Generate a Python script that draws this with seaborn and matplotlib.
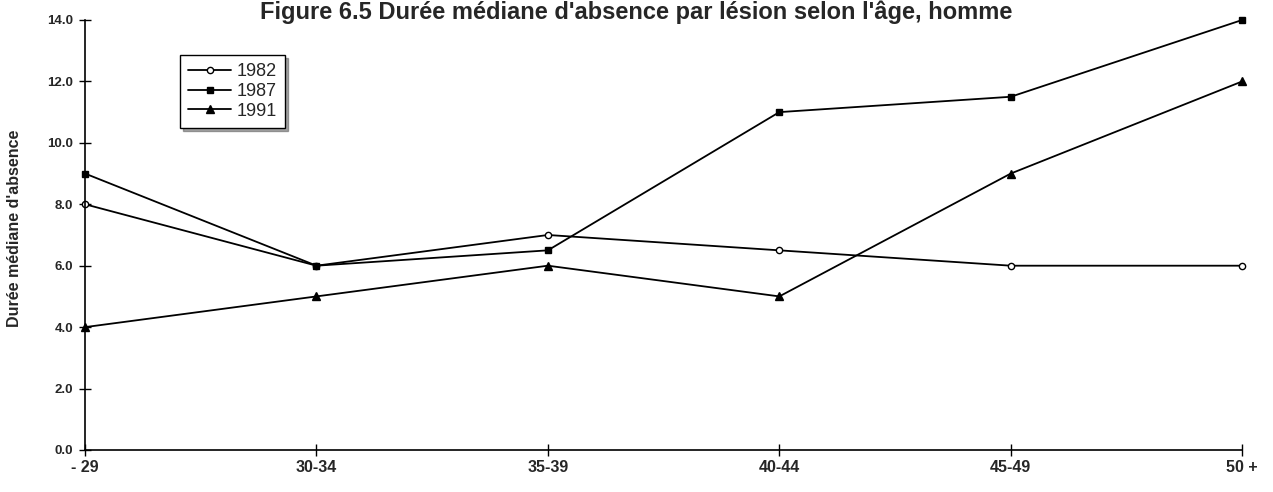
import matplotlib
matplotlib.use("Agg")
import matplotlib.pyplot as plt
import seaborn as sns
import pandas as pd

categories = ["- 29", "30-34", "35-39", "40-44", "45-49", "50 +"]
s1982 = [8.0, 6.0, 7.0, 6.5, 6.0, 6.0]
s1987 = [9.0, 6.0, 6.5, 11.0, 11.5, 14.0]
s1991 = [4.0, 5.0, 6.0, 5.0, 9.0, 12.0]
yticks = [0, 2, 4, 6, 8, 10, 12, 14]

sns.set_style("white")
plt.rcParams['font.family'] = ['Liberation Sans', 'DejaVu Sans']

rows = []
for name, vals in [("1982", s1982), ("1987", s1987), ("1991", s1991)]:
    for i, (c, v) in enumerate(zip(categories, vals)):
        rows.append({"pos": i, "age": c, "val": v, "year": name})
df = pd.DataFrame(rows)

fig = plt.figure(figsize=(12.73, 4.92), dpi=100)
ax = fig.add_axes([0.0668, 0.0854, 0.909, 0.874])

styles = {"1982": dict(marker="o", mfc="white", ms=4.5),
          "1987": dict(marker="s", mfc="black", ms=5),
          "1991": dict(marker="^", mfc="black", ms=5.5)}
for name in ["1982", "1987", "1991"]:
    sub = df[df["year"] == name]
    st = styles[name]
    sns.lineplot(data=sub, x="pos", y="val", ax=ax, color="black", lw=1.3,
                 marker=st["marker"], markerfacecolor=st["mfc"], markeredgecolor="black",
                 markeredgewidth=1.0, markersize=st["ms"], label=name, clip_on=False)

ax.set_xlim(0, len(categories) - 1)
ax.set_ylim(0, 14)
ax.set_xticks(range(len(categories)))
ax.set_xticklabels(categories, fontsize=11.5, fontweight="bold")
ax.set_yticks(yticks)
ax.set_yticklabels([f"{v:.1f}" for v in yticks], fontsize=9.5, fontweight="bold")
ax.tick_params(axis="both", direction="inout", length=9, width=1, color="black",
               bottom=True, left=True)
ax.tick_params(axis="x", pad=3)
ax.tick_params(axis="y", pad=4)
for side in ["top", "right"]:
    ax.spines[side].set_visible(False)
for side in ["left", "bottom"]:
    ax.spines[side].set_color("black")
    ax.spines[side].set_linewidth(1.2)
ax.set_xlabel("")
ax.set_ylabel("Durée médiane d'absence", fontsize=11.5, fontweight="bold")
ax.yaxis.set_label_coords(-63 / 1157, 0.515)
ax.patch.set_alpha(0)

leg = ax.legend(loc="upper left", bbox_to_anchor=(0.082, 0.918), frameon=True, fancybox=False,
                shadow=True, fontsize=13, handlelength=2.4, handletextpad=0.3,
                borderpad=0.45, labelspacing=0.15, borderaxespad=0)
leg.get_frame().set_edgecolor("black")
leg.get_frame().set_linewidth(1.0)

fig.text(0.5, 1 - 1 / 492, "Figure 6.5 Durée médiane d'absence par lésion selon l'âge, homme",
         ha="center", va="top", fontsize=17, fontweight="bold")

fig.savefig("out.png", dpi=100)
